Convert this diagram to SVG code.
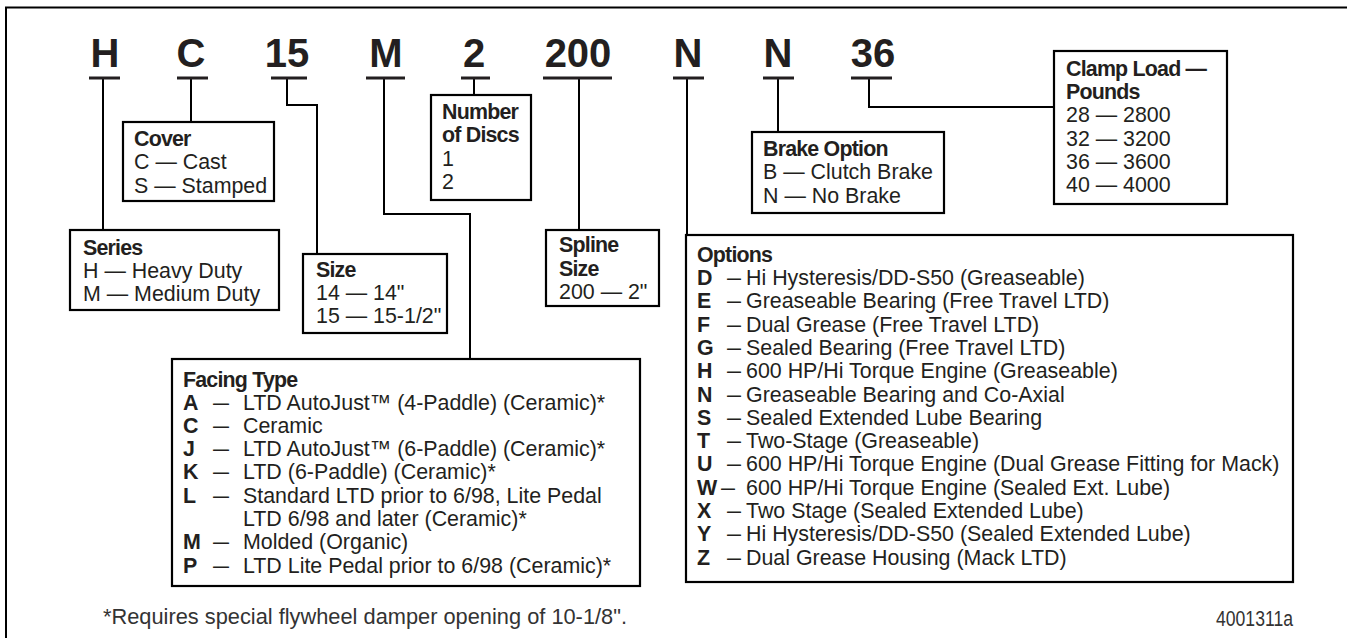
<svg xmlns="http://www.w3.org/2000/svg" width="1347" height="638" viewBox="0 0 1347 638">
<style>
.frame{fill:none;stroke:#000;stroke-width:2}
.big{font-family:"Liberation Sans",Arial,sans-serif;font-weight:bold;font-size:40px;fill:#231f20;text-anchor:middle}
.ul{stroke:#231f20;stroke-width:3}
.box{fill:#fff;stroke:#000;stroke-width:2.2}
.ln{fill:none;stroke:#000;stroke-width:2}
.t{font-family:"Liberation Sans",Arial,sans-serif;font-size:21.4px;fill:#231f20}
.b{font-weight:bold;letter-spacing:-0.8px}
.note{font-family:"Liberation Sans",Arial,sans-serif;font-size:21.5px;fill:#333}
</style>
<rect width="1347" height="638" fill="#fff"/>
<path class="frame" d="M6,638 V7.5 H1347"/>

<g id="connectors">
<path class="ln" d="M103,78 V230"/>
<path class="ln" d="M191,78 V122"/>
<path class="ln" d="M287,78 V105 H317 V254"/>
<path class="ln" d="M384,78 V214 H470 V359"/>
<path class="ln" d="M474,78 V95"/>
<path class="ln" d="M579,78 V230"/>
<path class="ln" d="M687,78 V235"/>
<path class="ln" d="M778,78 V132"/>
<path class="ln" d="M869,78 V107 H1054"/>
</g>

<g id="code-H"><text class="big" x="105" y="67">H</text><line class="ul" x1="89" y1="78" x2="120" y2="78"/></g>
<g id="code-C"><text class="big" x="191" y="67">C</text><line class="ul" x1="177" y1="78" x2="208" y2="78"/></g>
<g id="code-15"><text class="big" x="287" y="67">15</text><line class="ul" x1="271" y1="78" x2="307" y2="78"/></g>
<g id="code-M"><text class="big" x="386" y="67">M</text><line class="ul" x1="366" y1="78" x2="405" y2="78"/></g>
<g id="code-2"><text class="big" x="474" y="67">2</text><line class="ul" x1="461" y1="78" x2="490" y2="78"/></g>
<g id="code-200"><text class="big" x="578" y="67">200</text><line class="ul" x1="543" y1="78" x2="612" y2="78"/></g>
<g id="code-N1"><text class="big" x="688" y="67">N</text><line class="ul" x1="673" y1="78" x2="704" y2="78"/></g>
<g id="code-N2"><text class="big" x="778" y="67">N</text><line class="ul" x1="763" y1="78" x2="794" y2="78"/></g>
<g id="code-36"><text class="big" x="873" y="67">36</text><line class="ul" x1="851" y1="78" x2="892" y2="78"/></g>

<g id="box-series">
<rect class="box" x="70" y="230" width="209" height="80"/>
<text class="t b" x="83" y="255">Series</text>
<text class="t" x="83" y="278">H — Heavy Duty</text>
<text class="t" x="83" y="301">M — Medium Duty</text>
</g>

<g id="box-cover">
<rect class="box" x="123" y="122" width="151" height="79"/>
<text class="t b" x="134" y="146">Cover</text>
<text class="t" x="134" y="169">C — Cast</text>
<text class="t" x="134" y="193">S — Stamped</text>
</g>

<g id="box-size">
<rect class="box" x="303" y="254" width="144" height="79"/>
<text class="t b" x="316" y="277">Size</text>
<text class="t" x="316" y="300">14 — 14"</text>
<text class="t" x="316" y="323">15 — 15-1/2"</text>
</g>

<g id="box-discs">
<rect class="box" x="431" y="95" width="100" height="105"/>
<text class="t b" x="442" y="119">Number</text>
<text class="t b" x="442" y="142">of Discs</text>
<text class="t" x="442" y="166">1</text>
<text class="t" x="442" y="189">2</text>
</g>

<g id="box-spline">
<rect class="box" x="546" y="230" width="113" height="76"/>
<text class="t b" x="559" y="252">Spline</text>
<text class="t b" x="559" y="276">Size</text>
<text class="t" x="559" y="299">200 — 2"</text>
</g>

<g id="box-brake">
<rect class="box" x="752" y="132" width="192" height="81"/>
<text class="t b" x="763" y="156">Brake Option</text>
<text class="t" x="763" y="179">B — Clutch Brake</text>
<text class="t" x="763" y="203">N — No Brake</text>
</g>

<g id="box-clamp">
<rect class="box" x="1054" y="51" width="173" height="153"/>
<text class="t b" x="1066" y="76">Clamp Load —</text>
<text class="t b" x="1066" y="99">Pounds</text>
<text class="t" x="1066" y="122">28 — 2800</text>
<text class="t" x="1066" y="146">32 — 3200</text>
<text class="t" x="1066" y="169">36 — 3600</text>
<text class="t" x="1066" y="192">40 — 4000</text>
</g>

<g id="box-options">
<rect class="box" x="686" y="235" width="607" height="347"/>
<text class="t b" x="697" y="262">Options</text>
<text class="t b" x="697" y="285">D</text><text class="t" x="727" y="285" textLength="14" lengthAdjust="spacingAndGlyphs">—</text><text class="t" x="746" y="285">Hi Hysteresis/DD-S50 (Greaseable)</text>
<text class="t b" x="697" y="308.3">E</text><text class="t" x="727" y="308.3" textLength="14" lengthAdjust="spacingAndGlyphs">—</text><text class="t" x="746" y="308.3">Greaseable Bearing (Free Travel LTD)</text>
<text class="t b" x="697" y="331.6">F</text><text class="t" x="727" y="331.6" textLength="14" lengthAdjust="spacingAndGlyphs">—</text><text class="t" x="746" y="331.6">Dual Grease (Free Travel LTD)</text>
<text class="t b" x="697" y="354.9">G</text><text class="t" x="727" y="354.9" textLength="14" lengthAdjust="spacingAndGlyphs">—</text><text class="t" x="746" y="354.9">Sealed Bearing (Free Travel LTD)</text>
<text class="t b" x="697" y="378.2">H</text><text class="t" x="727" y="378.2" textLength="14" lengthAdjust="spacingAndGlyphs">—</text><text class="t" x="746" y="378.2">600 HP/Hi Torque Engine (Greaseable)</text>
<text class="t b" x="697" y="401.5">N</text><text class="t" x="727" y="401.5" textLength="14" lengthAdjust="spacingAndGlyphs">—</text><text class="t" x="746" y="401.5">Greaseable Bearing and Co-Axial</text>
<text class="t b" x="697" y="424.8">S</text><text class="t" x="727" y="424.8" textLength="14" lengthAdjust="spacingAndGlyphs">—</text><text class="t" x="746" y="424.8">Sealed Extended Lube Bearing</text>
<text class="t b" x="697" y="448.1">T</text><text class="t" x="727" y="448.1" textLength="14" lengthAdjust="spacingAndGlyphs">—</text><text class="t" x="746" y="448.1">Two-Stage (Greaseable)</text>
<text class="t b" x="697" y="471.4">U</text><text class="t" x="727" y="471.4" textLength="14" lengthAdjust="spacingAndGlyphs">—</text><text class="t" x="746" y="471.4">600 HP/Hi Torque Engine (Dual Grease Fitting for Mack)</text>
<text class="t b" x="697" y="494.7">W</text><text class="t" x="721" y="494.7" textLength="14" lengthAdjust="spacingAndGlyphs">—</text><text class="t" x="746" y="494.7">600 HP/Hi Torque Engine (Sealed Ext. Lube)</text>
<text class="t b" x="697" y="518">X</text><text class="t" x="727" y="518" textLength="14" lengthAdjust="spacingAndGlyphs">—</text><text class="t" x="746" y="518">Two Stage (Sealed Extended Lube)</text>
<text class="t b" x="697" y="541.3">Y</text><text class="t" x="727" y="541.3" textLength="14" lengthAdjust="spacingAndGlyphs">—</text><text class="t" x="746" y="541.3">Hi Hysteresis/DD-S50 (Sealed Extended Lube)</text>
<text class="t b" x="697" y="564.6">Z</text><text class="t" x="727" y="564.6" textLength="14" lengthAdjust="spacingAndGlyphs">—</text><text class="t" x="746" y="564.6">Dual Grease Housing (Mack LTD)</text>
</g>

<g id="box-facing">
<rect class="box" x="172" y="359" width="468" height="227"/>
<text class="t b" x="183" y="387">Facing Type</text>
<text class="t b" x="183" y="409.5">A</text><text class="t" x="213" y="409.5" textLength="16" lengthAdjust="spacingAndGlyphs">—</text><text class="t" x="243" y="409.5">LTD AutoJust™ (4-Paddle) (Ceramic)*</text>
<text class="t b" x="183" y="432.8">C</text><text class="t" x="213" y="432.8" textLength="16" lengthAdjust="spacingAndGlyphs">—</text><text class="t" x="243" y="432.8">Ceramic</text>
<text class="t b" x="183" y="456.1">J</text><text class="t" x="213" y="456.1" textLength="16" lengthAdjust="spacingAndGlyphs">—</text><text class="t" x="243" y="456.1">LTD AutoJust™ (6-Paddle) (Ceramic)*</text>
<text class="t b" x="183" y="479.4">K</text><text class="t" x="213" y="479.4" textLength="16" lengthAdjust="spacingAndGlyphs">—</text><text class="t" x="243" y="479.4">LTD (6-Paddle) (Ceramic)*</text>
<text class="t b" x="183" y="502.7">L</text><text class="t" x="213" y="502.7" textLength="16" lengthAdjust="spacingAndGlyphs">—</text><text class="t" x="243" y="502.7">Standard LTD prior to 6/98, Lite Pedal</text>
<text class="t" x="243" y="526">LTD 6/98 and later (Ceramic)*</text>
<text class="t b" x="183" y="549.3">M</text><text class="t" x="213" y="549.3" textLength="16" lengthAdjust="spacingAndGlyphs">—</text><text class="t" x="243" y="549.3">Molded (Organic)</text>
<text class="t b" x="183" y="572.6">P</text><text class="t" x="213" y="572.6" textLength="16" lengthAdjust="spacingAndGlyphs">—</text><text class="t" x="243" y="572.6">LTD Lite Pedal prior to 6/98 (Ceramic)*</text>
</g>

<g id="footnote">
<text class="note" x="103" y="624" textLength="524" lengthAdjust="spacingAndGlyphs">*Requires special flywheel damper opening of 10-1/8".</text>
<text class="note" x="1216" y="626" font-size="19" textLength="77" lengthAdjust="spacingAndGlyphs">4001311a</text>
</g>
</svg>
